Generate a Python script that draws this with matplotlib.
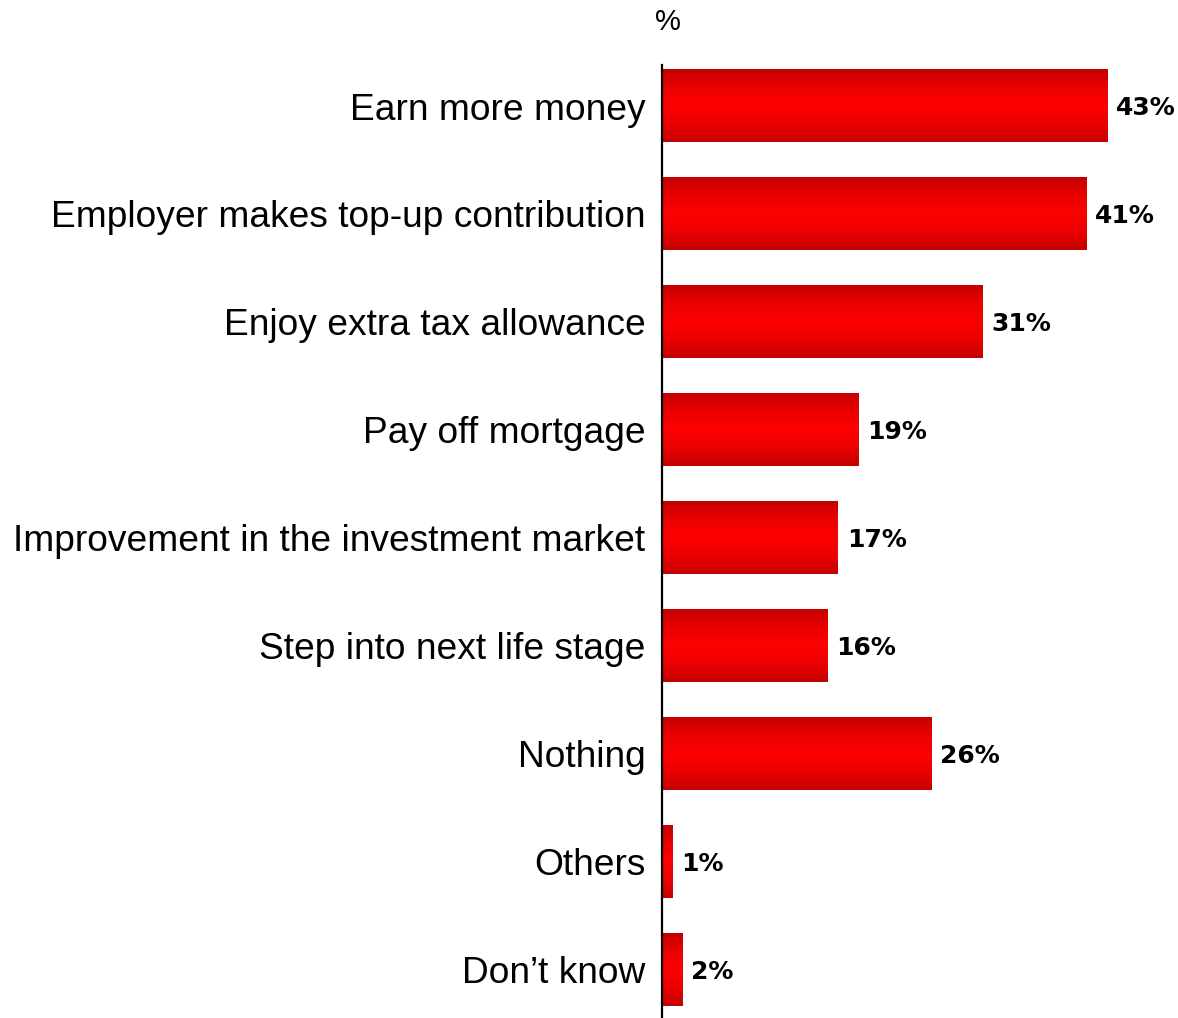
import numpy as np
import matplotlib
matplotlib.use("Agg")
import matplotlib.pyplot as plt
from matplotlib.colors import LinearSegmentedColormap

categories = [
    "Earn more money",
    "Employer makes top-up contribution",
    "Enjoy extra tax allowance",
    "Pay off mortgage",
    "Improvement in the investment market",
    "Step into next life stage",
    "Nothing",
    "Others",
    "Don\u2019t know",
]
values = [43, 41, 31, 19, 17, 16, 26, 1, 2]
value_labels = ["43%", "41%", "31%", "19%", "17%", "16%", "26%", "1%", "2%"]

plt.rcParams["font.family"] = ["Liberation Sans", "DejaVu Sans"]

W, H = 1178, 1018
fig = plt.figure(figsize=(W / 100, H / 100), dpi=100)
ax = fig.add_axes([662 / W, 0.0, 517.5 / W, 953 / H])

pos = np.arange(len(categories))
bars = ax.barh(pos, values, height=0.67, color="none", edgecolor="none")

# vertical red gradient: dark edges, bright centre
grad_cmap = LinearSegmentedColormap.from_list(
    "redbar", ["#c40000", "#ea0000", "#ff0000", "#ea0000", "#c40000"])
grad = np.linspace(0, 1, 256).reshape(-1, 1)
for b in bars:
    x0, y0 = b.get_x(), b.get_y()
    w, h = b.get_width(), b.get_height()
    ax.imshow(grad, cmap=grad_cmap, aspect="auto", interpolation="bicubic",
              extent=(x0, x0 + w, y0 + h, y0), zorder=2)

for p, v, lab in zip(pos, values, value_labels):
    ax.text(v + 0.85, p + 0.02, lab, va="center", ha="left", fontsize=18,
            fontweight="bold", color="black", family="DejaVu Sans")

ax.set_xlim(0, 50)
ax.set_ylim(8.45, -0.38)
ax.set_yticks(pos)
ax.set_yticklabels(categories, fontsize=26.7)
ax.set_xticks([])
ax.tick_params(axis="y", length=0, pad=12)
for s in ["top", "right", "bottom"]:
    ax.spines[s].set_visible(False)
ax.spines["left"].set_linewidth(1.6)
ax.spines["left"].set_color("black")

fig.text(668 / W, 1 - 22 / H, "%", ha="center", va="center", fontsize=21)

fig.savefig("out.png", dpi=100)
